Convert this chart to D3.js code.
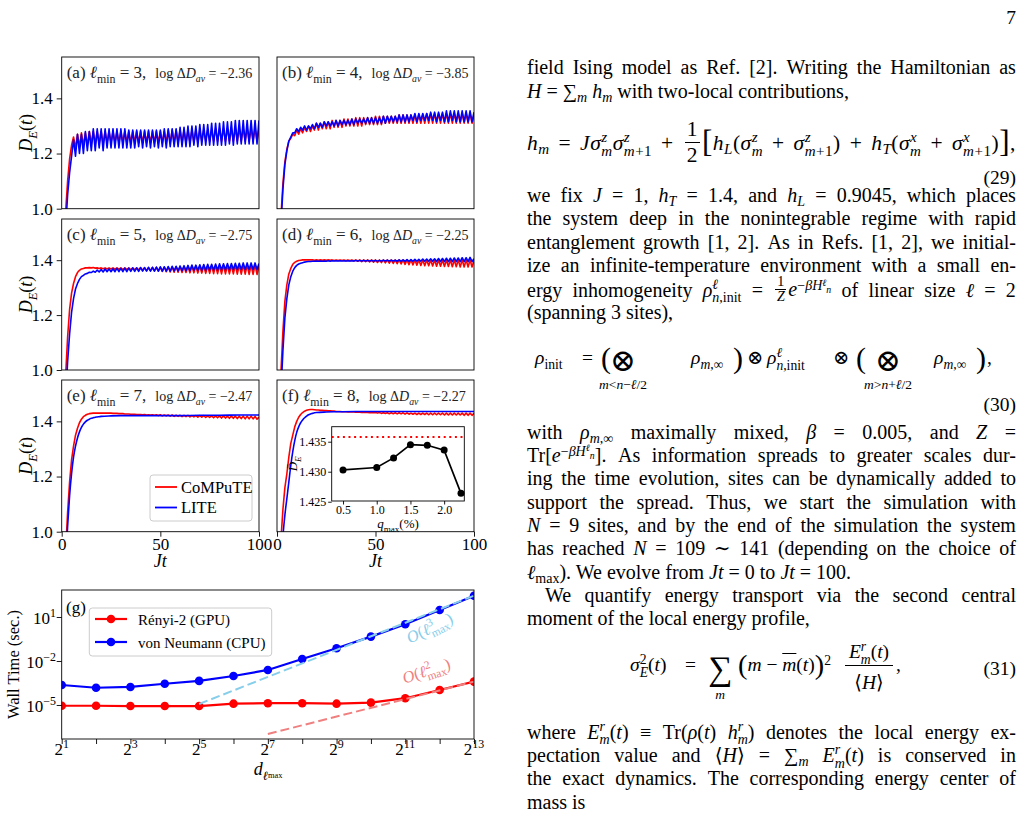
<!DOCTYPE html>
<html>
<head>
<meta charset="utf-8">
<title>LITE vs CoMPuTE benchmark</title>
<script src="https://cdn.jsdelivr.net/npm/d3@7"></script>
<style>
  html, body { margin: 0; padding: 0; background: #fff; }
  body { width: 1024px; height: 813px; position: relative; overflow: hidden;
         font-family: "Liberation Serif", "DejaVu Serif", serif; color: #000; }
  #fig { position: absolute; left: 0; top: 0; }
  #col { position: absolute; left: 0; top: 0; width: 1024px; height: 813px; font-size: 20px; }
  .ln { position: absolute; left: 527px; width: 489px; line-height: 24px; white-space: nowrap; }
  .ln.j { display: flex; justify-content: space-between; align-items: baseline; }
  .ln.eq { letter-spacing: 0.5px; }
  .pc { position: absolute; white-space: nowrap; line-height: 24px; }
  sub, sup { font-size: 0.7em; line-height: 0; vertical-align: baseline; position: relative; }
  sub { top: 0.3em; }
  sup { top: -0.45em; }
  .ss { display: inline-block; font-size: 0.7em; line-height: 0.95; vertical-align: -0.4em; text-align: left; }
  .ss > span { display: block; }
  .fr { display: inline-block; text-align: center; line-height: 1.15; vertical-align: -0.55em; margin: 0 2px; }
  .fr > span { display: block; }
  .fr > span:first-child { border-bottom: 1px solid #000; padding: 0 2px; }
  .fr.sm { font-size: 0.7em; line-height: 1.0; vertical-align: -0.35em; }
  .big { font-size: 1.45em; line-height: 0; position: relative; top: 0.08em; }
</style>
</head>
<body>
<div id="fig"></div>
<div id="col"></div>
<script>
// ════════════════════════════════════════════
// Data
// ════════════════════════════════════════════

// sample times Jt = 0..100 (one per unit) for the oscillating curves
const tGrid = d3.range(0, 101);
// coarser times for the smooth LITE curves in (e) and (f)
const tSmooth = [0,1,2,3,4,5,6,7,8,9,10,11,12,13,14,15,16,17,18,19,20,25,30,40,50,60,70,80,90,100];

const panelTag = ["(a)", "(b)", "(c)", "(d)", "(e)", "(f)"];
const lMin = [3, 4, 5, 6, 7, 8];
const logDav = ["−2.36", "−3.85", "−2.75", "−2.25", "−2.47", "−2.27"];
const dTicks = [1.0, 1.2, 1.4];
const jtTicks = [0, 50, 100];
const seriesNames = ["CoMPuTE", "LITE"];

// (a) ℓmin = 3
const aRed = [
  0.60, 0.82, 0.99, 1.10, 1.18, 1.23, 1.26, 1.22, 1.27, 1.225,
  1.275, 1.23, 1.275, 1.23, 1.28, 1.235, 1.28, 1.235, 1.28, 1.235,
  1.28, 1.235, 1.28, 1.24, 1.28, 1.24, 1.28, 1.24, 1.28, 1.24,
  1.28, 1.24, 1.28, 1.24, 1.28, 1.24, 1.28, 1.24, 1.28, 1.24,
  1.28, 1.24, 1.28, 1.24, 1.28, 1.24, 1.28, 1.24, 1.28, 1.24,
  1.28, 1.24, 1.28, 1.24, 1.285, 1.24, 1.285, 1.24, 1.285, 1.24,
  1.285, 1.24, 1.285, 1.24, 1.285, 1.24, 1.285, 1.24, 1.285, 1.24,
  1.285, 1.245, 1.285, 1.245, 1.285, 1.245, 1.285, 1.245, 1.29, 1.245,
  1.29, 1.245, 1.29, 1.245, 1.29, 1.245, 1.29, 1.245, 1.29, 1.245,
  1.29, 1.245, 1.29, 1.245, 1.29, 1.245, 1.29, 1.245, 1.29, 1.245,
  1.29];
const aBlue = [
  0.55, 0.75, 0.93, 1.05, 1.13, 1.19, 1.25, 1.19, 1.27, 1.20,
  1.27, 1.20, 1.28, 1.21, 1.28, 1.21, 1.29, 1.21, 1.29, 1.22,
  1.29, 1.21, 1.29, 1.22, 1.29, 1.22, 1.29, 1.22, 1.29, 1.22,
  1.29, 1.22, 1.29, 1.22, 1.285, 1.22, 1.285, 1.22, 1.285, 1.225,
  1.285, 1.22, 1.285, 1.225, 1.285, 1.22, 1.285, 1.225, 1.285, 1.22,
  1.285, 1.225, 1.29, 1.22, 1.29, 1.225, 1.29, 1.225, 1.29, 1.225,
  1.295, 1.225, 1.295, 1.225, 1.30, 1.225, 1.30, 1.23, 1.30, 1.225,
  1.305, 1.23, 1.305, 1.23, 1.305, 1.23, 1.31, 1.23, 1.31, 1.23,
  1.31, 1.23, 1.315, 1.23, 1.315, 1.235, 1.315, 1.23, 1.32, 1.235,
  1.32, 1.235, 1.32, 1.235, 1.32, 1.235, 1.32, 1.235, 1.32, 1.235,
  1.32];

// (b) ℓmin = 4
const bRed = [
  0.58, 0.80, 0.97, 1.09, 1.17, 1.215, 1.245, 1.255, 1.27, 1.265,
  1.285, 1.27, 1.29, 1.275, 1.295, 1.28, 1.30, 1.28, 1.30, 1.285,
  1.31, 1.285, 1.31, 1.29, 1.315, 1.29, 1.315, 1.29, 1.32, 1.295,
  1.32, 1.295, 1.32, 1.295, 1.325, 1.30, 1.325, 1.30, 1.325, 1.30,
  1.33, 1.30, 1.33, 1.30, 1.33, 1.305, 1.33, 1.305, 1.33, 1.305,
  1.335, 1.305, 1.335, 1.305, 1.335, 1.31, 1.335, 1.31, 1.335, 1.31,
  1.335, 1.31, 1.34, 1.31, 1.34, 1.31, 1.34, 1.31, 1.34, 1.31,
  1.34, 1.31, 1.34, 1.31, 1.34, 1.31, 1.345, 1.31, 1.345, 1.31,
  1.345, 1.31, 1.345, 1.31, 1.345, 1.31, 1.345, 1.31, 1.345, 1.31,
  1.345, 1.31, 1.345, 1.31, 1.345, 1.31, 1.345, 1.31, 1.345, 1.31,
  1.34];
const bBlue = [
  0.55, 0.76, 0.94, 1.07, 1.16, 1.21, 1.245, 1.26, 1.275, 1.275,
  1.29, 1.28, 1.295, 1.285, 1.30, 1.285, 1.30, 1.29, 1.305, 1.29,
  1.31, 1.295, 1.31, 1.295, 1.315, 1.30, 1.315, 1.30, 1.315, 1.30,
  1.32, 1.30, 1.32, 1.305, 1.32, 1.305, 1.32, 1.305, 1.325, 1.305,
  1.325, 1.31, 1.325, 1.31, 1.325, 1.31, 1.33, 1.31, 1.33, 1.31,
  1.33, 1.31, 1.33, 1.31, 1.335, 1.31, 1.335, 1.315, 1.335, 1.315,
  1.335, 1.315, 1.34, 1.315, 1.34, 1.315, 1.34, 1.315, 1.34, 1.32,
  1.345, 1.315, 1.345, 1.32, 1.345, 1.32, 1.345, 1.32, 1.35, 1.32,
  1.35, 1.315, 1.35, 1.32, 1.35, 1.315, 1.355, 1.315, 1.355, 1.32,
  1.355, 1.315, 1.355, 1.315, 1.355, 1.315, 1.355, 1.315, 1.355, 1.315,
  1.35];

// (c) ℓmin = 5
const cRed = [
  0.55, 0.80, 0.98, 1.12, 1.22, 1.28, 1.315, 1.34, 1.355, 1.363,
  1.368, 1.37, 1.372, 1.372, 1.373, 1.372, 1.373, 1.371, 1.372, 1.37,
  1.372, 1.369, 1.372, 1.368, 1.372, 1.368, 1.372, 1.367, 1.372, 1.367,
  1.372, 1.366, 1.372, 1.366, 1.372, 1.365, 1.372, 1.365, 1.372, 1.364,
  1.373, 1.363, 1.373, 1.362, 1.373, 1.362, 1.374, 1.361, 1.374, 1.36,
  1.374, 1.359, 1.375, 1.358, 1.375, 1.357, 1.375, 1.356, 1.376, 1.356,
  1.376, 1.355, 1.377, 1.355, 1.377, 1.354, 1.378, 1.354, 1.378, 1.353,
  1.378, 1.353, 1.379, 1.352, 1.379, 1.352, 1.38, 1.351, 1.38, 1.351,
  1.38, 1.35, 1.381, 1.35, 1.381, 1.35, 1.381, 1.35, 1.382, 1.349,
  1.382, 1.349, 1.382, 1.349, 1.382, 1.348, 1.382, 1.348, 1.382, 1.348,
  1.38];
const cBlue = [
  0.50, 0.72, 0.90, 1.03, 1.13, 1.21, 1.26, 1.295, 1.315, 1.33,
  1.34, 1.345, 1.35, 1.352, 1.356, 1.355, 1.36, 1.356, 1.364, 1.357,
  1.366, 1.357, 1.368, 1.358, 1.368, 1.358, 1.369, 1.358, 1.37, 1.358,
  1.37, 1.358, 1.371, 1.358, 1.371, 1.359, 1.372, 1.359, 1.372, 1.359,
  1.373, 1.36, 1.373, 1.36, 1.374, 1.36, 1.374, 1.36, 1.375, 1.36,
  1.376, 1.36, 1.376, 1.36, 1.377, 1.36, 1.378, 1.361, 1.378, 1.361,
  1.379, 1.362, 1.38, 1.362, 1.381, 1.362, 1.382, 1.363, 1.382, 1.363,
  1.383, 1.363, 1.384, 1.363, 1.385, 1.364, 1.385, 1.364, 1.386, 1.364,
  1.387, 1.365, 1.387, 1.365, 1.388, 1.365, 1.388, 1.366, 1.389, 1.366,
  1.389, 1.366, 1.39, 1.366, 1.39, 1.366, 1.39, 1.366, 1.39, 1.366,
  1.388];

// (d) ℓmin = 6
const dRed = [
  0.55, 0.80, 0.99, 1.14, 1.25, 1.31, 1.35, 1.37, 1.385, 1.392,
  1.396, 1.399, 1.40, 1.401, 1.401, 1.401, 1.401, 1.401, 1.401, 1.40,
  1.401, 1.40, 1.401, 1.40, 1.401, 1.40, 1.401, 1.40, 1.401, 1.399,
  1.401, 1.399, 1.401, 1.399, 1.401, 1.398, 1.401, 1.398, 1.401, 1.397,
  1.401, 1.396, 1.401, 1.395, 1.401, 1.395, 1.401, 1.394, 1.401, 1.393,
  1.401, 1.392, 1.401, 1.391, 1.401, 1.39, 1.401, 1.389, 1.401, 1.388,
  1.401, 1.387, 1.401, 1.386, 1.401, 1.385, 1.401, 1.384, 1.401, 1.383,
  1.401, 1.382, 1.401, 1.381, 1.401, 1.38, 1.401, 1.38, 1.401, 1.379,
  1.401, 1.378, 1.401, 1.378, 1.401, 1.377, 1.401, 1.377, 1.401, 1.376,
  1.401, 1.376, 1.401, 1.375, 1.401, 1.375, 1.401, 1.375, 1.401, 1.375,
  1.40];
const dBlue = [
  0.50, 0.72, 0.92, 1.07, 1.19, 1.26, 1.31, 1.34, 1.36, 1.373,
  1.381, 1.386, 1.389, 1.391, 1.393, 1.394, 1.395, 1.395, 1.396, 1.396,
  1.397, 1.396, 1.397, 1.396, 1.397, 1.396, 1.398, 1.396, 1.398, 1.397,
  1.398, 1.397, 1.398, 1.397, 1.398, 1.397, 1.398, 1.397, 1.398, 1.397,
  1.399, 1.397, 1.399, 1.397, 1.399, 1.397, 1.399, 1.397, 1.399, 1.397,
  1.399, 1.397, 1.399, 1.397, 1.40, 1.397, 1.40, 1.397, 1.40, 1.397,
  1.40, 1.396, 1.401, 1.396, 1.401, 1.396, 1.402, 1.396, 1.402, 1.396,
  1.403, 1.396, 1.403, 1.396, 1.404, 1.396, 1.404, 1.396, 1.405, 1.396,
  1.405, 1.395, 1.406, 1.395, 1.406, 1.395, 1.407, 1.395, 1.407, 1.395,
  1.408, 1.395, 1.408, 1.395, 1.409, 1.395, 1.409, 1.395, 1.41, 1.395,
  1.405];

// (e) ℓmin = 7
const eRed = [
  0.50, 0.75, 0.93, 1.07, 1.18, 1.26, 1.31, 1.35, 1.375, 1.395,
  1.408, 1.417, 1.422, 1.426, 1.428, 1.429, 1.43, 1.43, 1.43, 1.43,
  1.43, 1.43, 1.43, 1.43, 1.43, 1.43, 1.429, 1.429, 1.429, 1.428,
  1.428, 1.428, 1.427, 1.427, 1.427, 1.426, 1.426, 1.426, 1.425, 1.425,
  1.425, 1.424, 1.425, 1.423, 1.424, 1.423, 1.424, 1.422, 1.424, 1.421,
  1.424, 1.42, 1.423, 1.42, 1.423, 1.419, 1.423, 1.418, 1.422, 1.418,
  1.422, 1.417, 1.422, 1.417, 1.422, 1.416, 1.421, 1.416, 1.421, 1.415,
  1.421, 1.415, 1.421, 1.414, 1.42, 1.414, 1.42, 1.413, 1.42, 1.413,
  1.42, 1.412, 1.42, 1.412, 1.419, 1.411, 1.419, 1.411, 1.419, 1.41,
  1.419, 1.41, 1.419, 1.409, 1.419, 1.409, 1.419, 1.409, 1.418, 1.408,
  1.416];
const eBlue = [0.45, 0.70, 0.88, 1.02, 1.13, 1.21, 1.27, 1.31, 1.34, 1.362,
  1.378, 1.39, 1.398, 1.404, 1.408, 1.411, 1.413, 1.415, 1.416, 1.417,
  1.418, 1.42, 1.421, 1.421, 1.421, 1.421, 1.422, 1.422, 1.423, 1.423];

// (f) ℓmin = 8
const fRed = [
  0.55, 0.80, 0.97, 1.08, 1.16, 1.21, 1.27, 1.32, 1.35, 1.38,
  1.40, 1.415, 1.425, 1.432, 1.437, 1.44, 1.442, 1.443, 1.443, 1.442,
  1.441, 1.441, 1.44, 1.44, 1.439, 1.439, 1.438, 1.438, 1.437, 1.437,
  1.436, 1.436, 1.436, 1.435, 1.435, 1.435, 1.434, 1.434, 1.434, 1.434,
  1.433, 1.433, 1.433, 1.432, 1.433, 1.432, 1.432, 1.431, 1.432, 1.431,
  1.432, 1.43, 1.432, 1.429, 1.431, 1.429, 1.431, 1.428, 1.431, 1.428,
  1.431, 1.427, 1.431, 1.427, 1.431, 1.426, 1.431, 1.426, 1.43, 1.426,
  1.43, 1.425, 1.43, 1.425, 1.43, 1.425, 1.43, 1.424, 1.43, 1.424,
  1.43, 1.424, 1.43, 1.424, 1.43, 1.423, 1.43, 1.423, 1.43, 1.423,
  1.43, 1.423, 1.43, 1.423, 1.43, 1.422, 1.43, 1.422, 1.43, 1.422,
  1.429];
const fBlue = [0.45, 0.65, 0.85, 0.98, 1.06, 1.12, 1.18, 1.24, 1.29, 1.33,
  1.36, 1.38, 1.395, 1.405, 1.413, 1.419, 1.424, 1.427, 1.429, 1.431,
  1.432, 1.434, 1.435, 1.436, 1.436, 1.436, 1.436, 1.436, 1.436, 1.436];

const redSeries = [aRed, bRed, cRed, dRed, eRed, fRed];
const blueSeries = [aBlue, bBlue, cBlue, dBlue, eBlue, fBlue];
const blueTimes = [tGrid, tGrid, tGrid, tGrid, tSmooth, tSmooth];

// inset of (f): time-averaged D_E vs q_max
const qMax = [0.5, 1.0, 1.25, 1.5, 1.75, 2.0, 2.25];
const dBar = [1.4303, 1.4307, 1.4323, 1.4345, 1.4344, 1.4336, 1.4264];
const dBarRef = 1.4358;
const qTicks = [0.5, 1.0, 1.5, 2.0];
const dBarTicks = [1.425, 1.430, 1.435];

// (g) wall time vs d_lmax
const dLmax = [2, 4, 8, 16, 32, 64, 128, 256, 512, 1024, 2048, 4096, 8192];
const renyiTime = [8.9e-6, 8.9e-6, 8.5e-6, 8.5e-6, 8.5e-6, 1.23e-5, 1.32e-5, 1.32e-5, 1.23e-5, 1.45e-5, 2.9e-5, 1.05e-4, 3.9e-4];
const vnTime = [2.3e-4, 1.5e-4, 1.7e-4, 2.8e-4, 4.4e-4, 9.5e-4, 2.45e-3, 1.38e-2, 7.4e-2, 0.46, 3.2, 30, 282];
const fit3D = [32, 8192], fit3T = [1.17e-5, 282];
const fit2D = [128, 8192], fit2T = [1.05e-7, 3.9e-4];
const gXTickPow = [1, 3, 5, 7, 9, 11, 13];
const gYTickPow = [1, -2, -5];
const gLegend = ["Rényi-2 (GPU)", "von Neumann (CPU)"];

// ════════════════════════════════════════════
// Figure
// ════════════════════════════════════════════
const SERIF = '"Liberation Serif","DejaVu Serif",serif';
const RED = "#ff0000", BLUE = "#0000ff", SKY = "#87ceeb", PINK = "#f08080";
const FS = 17;

const svg = d3.select("#fig").append("svg")
  .attr("width", 1024).attr("height", 813)
  .style("font-family", SERIF);
const defs = svg.append("defs");

// ── rich text: tspans with italic / sub / sup ──
function rich(txt, parts, fs) {
  let cur = 0;
  parts.forEach((p) => {
    const size = p.fs || fs;
    const off = p.sub ? 0.28 * size : p.sup ? -0.42 * size : 0;
    const ts = txt.append("tspan").text(p.t).attr("dy", off - cur);
    if (p.dx) ts.attr("dx", p.dx);
    if (p.it) ts.attr("font-style", "italic");
    ts.attr("font-size", p.sub || p.sup ? size * 0.7 : size);
    cur = off;
  });
  return txt;
}

function styleAxis(a, fs) {
  a.select(".domain").remove();
  a.selectAll("line").attr("stroke", "#000").attr("stroke-width", 0.9);
  a.selectAll("text").attr("font-family", SERIF).attr("font-size", fs).attr("fill", "#000");
}

// ── Panels (a)–(f) ──
const colX = [[61.7, 259], [277, 474]];
const rowY = [[57, 208.7], [219, 370], [380, 531.7]];

panelTag.forEach((tag, i) => {
  const [x0, x1] = colX[i % 2];
  const row = Math.floor(i / 2);
  const [y0, y1] = rowY[row];
  const x = d3.scaleLinear().domain([0, 100]).range([x0, x1]);
  const y = d3.scaleLinear().domain([1.0, 1.55]).range([y1, y0]);
  const g = svg.append("g");

  defs.append("clipPath").attr("id", "clip" + i)
    .append("rect").attr("x", x0).attr("y", y0).attr("width", x1 - x0).attr("height", y1 - y0);
  const cg = g.append("g").attr("clip-path", `url(#clip${i})`);

  // CoMPuTE underneath, LITE on top
  [
    { vals: redSeries[i], ts: tGrid, c: RED },
    { vals: blueSeries[i], ts: blueTimes[i], c: BLUE },
  ].forEach(({ vals, ts, c }) => {
    cg.append("path").datum(vals)
      .attr("d", d3.line().x((d, k) => x(ts[k])).y((d) => y(d))
        .curve(ts === tSmooth ? d3.curveMonotoneX : d3.curveLinear))
      .attr("fill", "none").attr("stroke", c)
      .attr("stroke-width", 1.6).attr("stroke-linejoin", "round");
  });

  g.append("rect").attr("x", x0).attr("y", y0).attr("width", x1 - x0).attr("height", y1 - y0)
    .attr("fill", "none").attr("stroke", "#000").attr("stroke-width", 0.9);

  if (i % 2 === 0) {
    const ya = g.append("g").attr("transform", `translate(${x0},0)`)
      .call(d3.axisLeft(y).tickValues(dTicks).tickSize(5).tickPadding(4).tickFormat(d3.format(".1f")));
    styleAxis(ya, FS);
    rich(g.append("text").attr("transform", `translate(32,${(y0 + y1) / 2}) rotate(-90)`)
      .attr("text-anchor", "middle"),
      [{ t: "D", it: 1 }, { t: "E", it: 1, sub: 1 }, { t: "(" }, { t: "t", it: 1 }, { t: ")" }], 18);
  }
  if (row === 2) {
    const xa = g.append("g").attr("transform", `translate(0,${y1})`)
      .call(d3.axisBottom(x).tickValues(jtTicks).tickSize(5).tickPadding(1));
    styleAxis(xa, FS);
    rich(g.append("text").attr("x", (x0 + x1) / 2).attr("y", 567).attr("text-anchor", "middle"),
      [{ t: "Jt", it: 1 }], 18);
  }

  // panel tag
  rich(g.append("text").attr("x", x0 + 5).attr("y", y0 + 21).attr("fill", "#222"), [
    { t: tag + " " }, { t: "ℓ", it: 1 }, { t: "min", sub: 1 }, { t: ` = ${lMin[i]},` },
    { t: "log Δ", fs: 14, dx: 9 }, { t: "D", it: 1, fs: 14 }, { t: "av", it: 1, sub: 1, fs: 14 },
    { t: ` = ${logDav[i]}`, fs: 14 },
  ], FS);
});

// ── Legend in (e) ──
{
  const lg = svg.append("g");
  lg.append("rect").attr("x", 150).attr("y", 475).attr("width", 102).attr("height", 46)
    .attr("rx", 3).attr("fill", "#fff").attr("fill-opacity", 0.8).attr("stroke", "#ccc");
  [RED, BLUE].forEach((c, k) => {
    const yy = 487 + k * 20.5;
    lg.append("line").attr("x1", 155).attr("x2", 177).attr("y1", yy).attr("y2", yy)
      .attr("stroke", c).attr("stroke-width", 1.8);
    lg.append("text").attr("x", 181).attr("y", yy + 5.5).attr("font-size", 16.5).text(seriesNames[k]);
  });
}

// ── Inset in (f) ──
{
  const ix0 = 331.7, ix1 = 464.3, iy0 = 426.7, iy1 = 501;
  const xq = d3.scaleLinear().domain([0.332, 2.299]).range([ix0, ix1]);
  const yq = d3.scaleLinear().domain([1.42512, 1.4375]).range([iy1, iy0]);
  const ig = svg.append("g");
  ig.append("rect").attr("x", ix0).attr("y", iy0).attr("width", ix1 - ix0).attr("height", iy1 - iy0)
    .attr("fill", "#fff").attr("stroke", "#000").attr("stroke-width", 0.9);
  ig.append("line").attr("x1", ix0).attr("x2", ix1).attr("y1", yq(dBarRef)).attr("y2", yq(dBarRef))
    .attr("stroke", RED).attr("stroke-width", 2).attr("stroke-dasharray", "2,3.6");
  ig.append("path").datum(dBar)
    .attr("d", d3.line().x((d, k) => xq(qMax[k])).y((d) => yq(d)))
    .attr("fill", "none").attr("stroke", "#000").attr("stroke-width", 1.7);
  ig.selectAll("circle").data(dBar).join("circle")
    .attr("cx", (d, k) => xq(qMax[k])).attr("cy", (d) => yq(d)).attr("r", 3.5).attr("fill", "#000");
  const iya = ig.append("g").attr("transform", `translate(${ix0},0)`)
    .call(d3.axisLeft(yq).tickValues(dBarTicks).tickSize(3.5).tickPadding(2).tickFormat(d3.format(".3f")));
  styleAxis(iya, 12);
  const ixa = ig.append("g").attr("transform", `translate(0,${iy1})`)
    .call(d3.axisBottom(xq).tickValues(qTicks).tickSize(3.5).tickPadding(1).tickFormat(d3.format(".1f")));
  styleAxis(ixa, 12);
  rich(ig.append("text").attr("transform", `translate(297,${(iy0 + iy1) / 2}) rotate(-90)`)
    .attr("text-anchor", "middle"),
    [{ t: "D\u0304", it: 1 }, { t: "E", it: 1, sub: 1 }], 13);
  rich(ig.append("text").attr("x", (ix0 + ix1) / 2).attr("y", 528).attr("text-anchor", "middle"),
    [{ t: "q", it: 1 }, { t: "max", sub: 1 }, { t: "(%)" }], 13);
}

// ── Panel (g) ──
{
  const gx0 = 61.7, gx1 = 474, gy0 = 590, gy1 = 739;
  const xg = d3.scaleLog().base(2).domain([2, 8192]).range([gx0, gx1]);
  const yg = d3.scaleLog().domain([4.8e-8, 692]).range([gy1, gy0]);
  const gg = svg.append("g");

  defs.append("clipPath").attr("id", "clipg")
    .append("rect").attr("x", gx0).attr("y", gy0).attr("width", gx1 - gx0).attr("height", gy1 - gy0);
  const cg = gg.append("g").attr("clip-path", "url(#clipg)");

  [{ v: renyiTime, c: RED }, { v: vnTime, c: BLUE }].forEach(({ v, c }) => {
    cg.append("path").datum(v)
      .attr("d", d3.line().x((d, k) => xg(dLmax[k])).y((d) => yg(d)))
      .attr("fill", "none").attr("stroke", c).attr("stroke-width", 2.2);
    cg.append("g").selectAll("circle").data(v).join("circle")
      .attr("cx", (d, k) => xg(dLmax[k])).attr("cy", (d) => yg(d)).attr("r", 4.3).attr("fill", c);
  });

  // scaling guides
  [{ xs: fit3D, ys: fit3T, c: SKY }, { xs: fit2D, ys: fit2T, c: PINK }].forEach(({ xs, ys, c }) => {
    cg.append("path").datum(ys)
      .attr("d", d3.line().x((d, k) => xg(xs[k])).y((d) => yg(d)))
      .attr("fill", "none").attr("stroke", c).attr("stroke-width", 2).attr("stroke-dasharray", "9,4");
  });

  gg.append("rect").attr("x", gx0).attr("y", gy0).attr("width", gx1 - gx0).attr("height", gy1 - gy0)
    .attr("fill", "none").attr("stroke", "#000").attr("stroke-width", 0.9);

  const gxa = gg.append("g").attr("transform", `translate(0,${gy1})`)
    .call(d3.axisBottom(xg).tickValues(dLmax).tickSize(5).tickFormat(""));
  styleAxis(gxa, FS);
  gXTickPow.forEach((p) => {
    rich(gg.append("text").attr("x", xg(2 ** p)).attr("y", 755).attr("text-anchor", "middle"),
      [{ t: "2" }, { t: String(p), sup: 1 }], FS);
  });
  const gya = gg.append("g").attr("transform", `translate(${gx0},0)`)
    .call(d3.axisLeft(yg).tickValues(gYTickPow.map((p) => 10 ** p)).tickSize(5).tickFormat(""));
  styleAxis(gya, FS);
  gYTickPow.forEach((p) => {
    rich(gg.append("text").attr("x", 56).attr("y", yg(10 ** p) + 7).attr("text-anchor", "end"),
      [{ t: "10" }, { t: String(p).replace("-", "−"), sup: 1 }], FS);
  });

  rich(gg.append("text").attr("transform", `translate(19,${(gy0 + gy1) / 2}) rotate(-90)`)
    .attr("text-anchor", "middle"), [{ t: "Wall Time (sec.)" }], 16.5);
  rich(gg.append("text").attr("x", 268).attr("y", 775).attr("text-anchor", "middle"),
    [{ t: "d", it: 1 }, { t: "ℓ", it: 1, sub: 1 }, { t: "max", sub: 1, fs: 12 }], 18);

  gg.append("text").attr("x", 66).attr("y", 613).attr("font-size", FS).text("(g)");

  // legend
  gg.append("rect").attr("x", 89.3).attr("y", 608).attr("width", 182.4).attr("height", 48)
    .attr("rx", 3).attr("fill", "#fff").attr("fill-opacity", 0.8).attr("stroke", "#ccc");
  [RED, BLUE].forEach((c, k) => {
    const yy = 619 + k * 23;
    gg.append("line").attr("x1", 95).attr("x2", 127).attr("y1", yy).attr("y2", yy)
      .attr("stroke", c).attr("stroke-width", 2.2);
    gg.append("circle").attr("cx", 111).attr("cy", yy).attr("r", 4.3).attr("fill", c);
    gg.append("text").attr("x", 138).attr("y", yy + 5.5).attr("font-size", 15).text(gLegend[k]);
  });

  // scaling annotations
  [
    { cx: 432, cy: 633, rot: -26, c: SKY, n: "3" },
    { cx: 428, cy: 676, rot: -18, c: PINK, n: "2" },
  ].forEach(({ cx, cy, rot, c, n }) => {
    rich(gg.append("text").attr("x", cx).attr("y", cy).attr("text-anchor", "middle")
      .attr("fill", c).attr("transform", `rotate(${rot},${cx},${cy})`),
      [{ t: "O", it: 1 }, { t: "(" }, { t: "ℓ", it: 1 }, { t: n, sup: 1 },
       { t: "max", sub: 1, dx: -6 }, { t: ")" }], 16.5);
  });
}

// ════════════════════════════════════════════
// Text column
// ════════════════════════════════════════════
const I = (s) => `<i>${s}</i>`;
const SS = (hi, lo) => `<span class="ss"><span>${hi}</span><span>${lo}</span></span>`;
const FR = (n, d, cls) => `<span class="fr${cls ? " " + cls : ""}"><span>${n}</span><span>${d}</span></span>`;
const m1 = I("m") + "+1";

const textLines = [
  { y: 74, j: 1, h: "field Ising model as Ref. [2]. Writing the Hamiltonian as" },
  { y: 97.3, h: `${I("H")} = ∑<sub>${I("m")}</sub> ${I("h")}<sub>${I("m")}</sub> with two-local contributions,` },
  { y: 135.5, j: 1, eq: 1, fs: 21.5, h: `${I("h")}<sub>${I("m")}</sub> = ${I("J")}${I("σ")}${SS(I("z"), I("m"))}${I("σ")}${SS(I("z"), m1)} + ${FR("1", "2")}<span class="big">[</span>${I("h")}<sub>${I("L")}</sub>(${I("σ")}${SS(I("z"), I("m"))} + ${I("σ")}${SS(I("z"), m1)}) + ${I("h")}<sub>${I("T")}</sub>(${I("σ")}${SS(I("x"), I("m"))} + ${I("σ")}${SS(I("x"), m1)})<span class="big">]</span>,` },
  { y: 201.7, j: 1, h: `we fix ${I("J")} = 1, ${I("h")}<sub>${I("T")}</sub> = 1.4, and ${I("h")}<sub>${I("L")}</sub> = 0.9045, which places` },
  { y: 225, j: 1, h: "the system deep in the nonintegrable regime with rapid" },
  { y: 248.3, j: 1, h: "entanglement growth [1, 2]. As in Refs. [1, 2], we initial-" },
  { y: 271.7, j: 1, h: "ize an infinite-temperature environment with a small en-" },
  { y: 294, j: 1, h: `ergy inhomogeneity ${I("ρ")}${SS(I("ℓ"), I("n") + ",init")} = ${FR("1", I("Z"), "sm")}${I("e")}<sup>−${I("βH")}<sup>${I("ℓ")}</sup><sub>${I("n")}</sub></sup> of linear size ${I("ℓ")} = 2` },
  { y: 318.3, h: "(spanning 3 sites)," },
  { y: 438.3, j: 1, h: `with ${I("ρ")}<sub>${I("m")},∞</sub> maximally mixed, ${I("β")} = 0.005, and ${I("Z")} =` },
  { y: 461.7, j: 1, h: `Tr[${I("e")}<sup>−${I("βH")}<sup>${I("ℓ")}</sup><sub>${I("n")}</sub></sup>]. As information spreads to greater scales dur-` },
  { y: 485, j: 1, h: "ing the time evolution, sites can be dynamically added to" },
  { y: 508.3, j: 1, h: "support the spread. Thus, we start the simulation with" },
  { y: 531.7, j: 1, h: `${I("N")} = 9 sites, and by the end of the simulation the system` },
  { y: 555, j: 1, h: `has reached ${I("N")} = 109 ∼ 141 (depending on the choice of` },
  { y: 578.3, h: `${I("ℓ")}<sub>max</sub>). We evolve from ${I("Jt")} = 0 to ${I("Jt")} = 100.` },
  { y: 601.7, j: 1, ind: 18, h: "We quantify energy transport via the second central" },
  { y: 624.5, h: "moment of the local energy profile," },
  { y: 738.3, j: 1, h: `where ${I("E")}${SS(I("r"), I("m"))}(${I("t")}) ≡ Tr(${I("ρ")}(${I("t")}) ${I("h")}${SS(I("r"), I("m"))}) denotes the local energy ex-` },
  { y: 761.7, j: 1, h: `pectation value and ⟨${I("H")}⟩ = ∑<sub>${I("m")}</sub> ${I("E")}${SS(I("r"), I("m"))}(${I("t")}) is conserved in` },
  { y: 785, j: 1, h: "the exact dynamics. The corresponding energy center of" },
  { y: 808.3, h: "mass is" },
];

// absolutely placed pieces (equation numbers, display equations, page number)
const pieces = [
  { x: 1016, y: 25, a: "end", h: "7" },
  { x: 1016, y: 185, a: "end", h: "(29)" },
  { x: 1016, y: 412, a: "end", h: "(30)" },
  { x: 1016, y: 676, a: "end", h: "(31)" },
  // eq. (30)
  { x: 535, y: 365, h: `${I("ρ")}<sub>init</sub>` },
  { x: 582, y: 365, h: "=" },
  { x: 601, y: 368, h: "(", fs: 30 },
  { x: 623, y: 371, a: "mid", h: "⊗", fs: 31 },
  { x: 623, y: 390, a: "mid", h: `${I("m")}&lt;${I("n")}−${I("ℓ")}/2`, fs: 13.5 },
  { x: 691, y: 365, h: `${I("ρ")}<sub>${I("m")},∞</sub>` },
  { x: 733, y: 368, h: ")", fs: 30 },
  { x: 747, y: 365, h: "⊗" },
  { x: 767, y: 365, h: `${I("ρ")}${SS(I("ℓ"), I("n") + ",init")}` },
  { x: 833, y: 365, h: "⊗" },
  { x: 856, y: 368, h: "(", fs: 30 },
  { x: 888, y: 371, a: "mid", h: "⊗", fs: 31 },
  { x: 888, y: 390, a: "mid", h: `${I("m")}&gt;${I("n")}+${I("ℓ")}/2`, fs: 13.5 },
  { x: 934, y: 365, h: `${I("ρ")}<sub>${I("m")},∞</sub>` },
  { x: 976, y: 368, h: ")", fs: 30 },
  { x: 987, y: 365, h: "," },
  // eq. (31)
  { x: 630, y: 672, h: `${I("σ")}${SS("2", I("E"))}(${I("t")})` },
  { x: 685, y: 672, h: "=" },
  { x: 720, y: 680, a: "mid", h: "∑", fs: 34 },
  { x: 720, y: 700, a: "mid", h: I("m"), fs: 13.5 },
  { x: 738, y: 672, h: `<span class="big">(</span>${I("m")} − <span style="text-decoration:overline">${I("m")}</span>(${I("t")})<span class="big">)</span><sup>2</sup>` },
  { x: 869, y: 659, a: "mid", h: `${I("E")}${SS(I("r"), I("m"))}(${I("t")})` },
  { x: 869, y: 690, a: "mid", h: `⟨${I("H")}⟩` },
  { x: 896, y: 672, h: "," },
];

const col = d3.select("#col");

col.selectAll("div.ln").data(textLines).join("div")
  .attr("class", (d) => "ln" + (d.j ? " j" : "") + (d.eq ? " eq" : ""))
  .style("font-size", (d) => (d.fs ? d.fs + "px" : null))
  .style("top", (d) => d.y - 18.6 + "px")
  .style("padding-left", (d) => (d.ind || 0) + "px")
  .style("width", (d) => 489 - (d.ind || 0) + "px")
  .html((d) => d.j
    ? d.h.split(/ (?![^<]*>)/).map((w) => `<span>${w}</span>`).join("")
    : d.h);

col.selectAll("div.pc").data(pieces).join("div")
  .attr("class", "pc")
  .style("font-size", (d) => (d.fs || 19.5) + "px")
  .style("left", (d) => d.x + "px")
  .style("top", (d) => d.y - 12 - 0.3375 * (d.fs || 19.5) + "px")
  .style("transform", (d) => d.a === "end" ? "translateX(-100%)" : d.a === "mid" ? "translateX(-50%)" : null)
  .html((d) => d.h);

// fraction bar of eq. (31)
col.append("div").style("position", "absolute").style("left", "845px").style("top", "665px")
  .style("width", "48px").style("height", "1px").style("background", "#000");
</script>
</body>
</html>
